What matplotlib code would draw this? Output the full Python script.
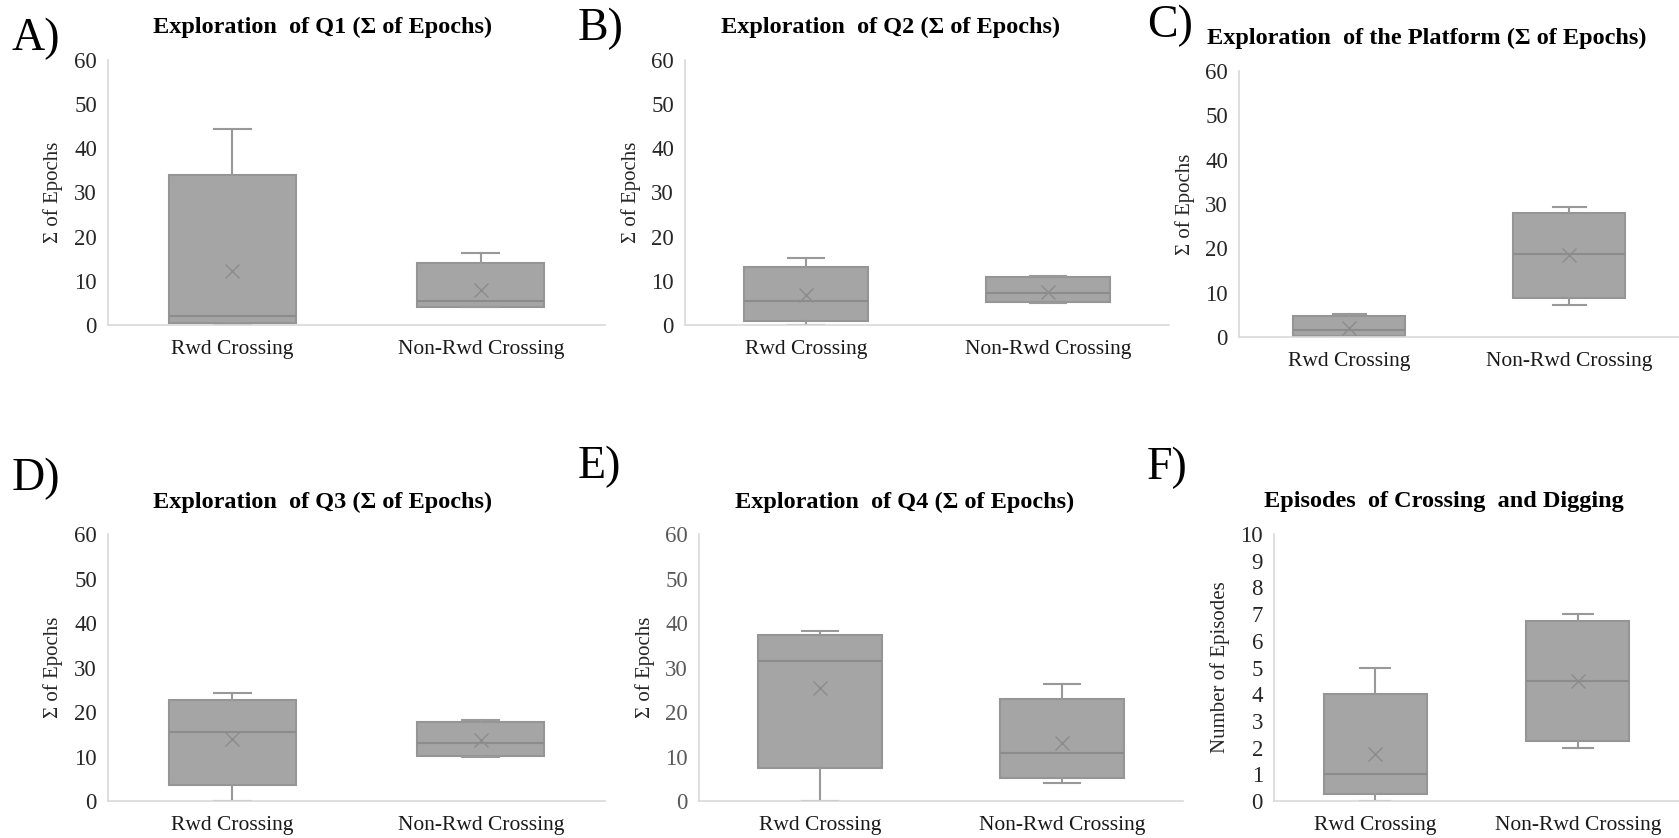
import matplotlib.pyplot as plt

W, H = 1679, 838

categories = ['Rwd Crossing', 'Non-Rwd Crossing']

# each list: whisker low, q1, median, q3, whisker high, mean
a_rwd = [0, 0.4, 2.0, 34.0, 44.3, 12.3]
a_non = [4.0, 4.0, 5.5, 14.0, 16.2, 7.9]
b_rwd = [0, 1.0, 5.5, 13.2, 15.2, 6.7]
b_non = [5.0, 5.1, 7.2, 10.9, 11.1, 7.5]
c_rwd = [0, 0.15, 1.5, 4.7, 5.2, 2.0]
c_non = [7.3, 8.8, 18.7, 27.9, 29.4, 18.4]
d_rwd = [0, 3.5, 15.6, 22.6, 24.2, 14.0]
d_non = [10.0, 10.1, 13.1, 17.8, 18.3, 13.6]
e_rwd = [0, 7.35, 31.5, 37.2, 38.3, 25.4]
e_non = [4.1, 5.1, 10.7, 23.0, 26.2, 13.0]
f_rwd = [0, 0.25, 1.0, 4.0, 5.0, 1.75]
f_non = [2.0, 2.25, 4.5, 6.75, 7.0, 4.5]

titles = ['Exploration  of Q1 (\u03a3 of Epochs)',
          'Exploration  of Q2 (\u03a3 of Epochs)',
          'Exploration  of the Platform (\u03a3 of Epochs)',
          'Exploration  of Q3 (\u03a3 of Epochs)',
          'Exploration  of Q4 (\u03a3 of Epochs)',
          'Episodes  of Crossing  and Digging']
ylabels = ['\u03a3 of Epochs'] * 5 + ['Number of Episodes']
letters = ['A)', 'B)', 'C)', 'D)', 'E)', 'F)']
ymax = [60, 60, 60, 60, 60, 10]
ystep = [10, 10, 10, 10, 10, 1]

# layout in pixels: axes box, title centre, letter pos, ylabel x (right side)
axes_px = [(108, 60, 605, 325), (685, 60, 1169, 325), (1239, 71, 1679, 337),
           (108, 534, 605, 801), (699, 534, 1183, 801), (1274, 534, 1679, 801)]
title_px = [(323, 27), (891, 27), (1427, 38), (323, 502), (905, 502), (1444, 502)]
letter_px = [(12, 39), (578, 29), (1147, 26), (12, 479), (578, 467), (1147, 468)]
ylab_px = [63, 641, 1195, 63, 655, 1230]
ytick_col = ['#262626', '#262626', '#262626', '#262626', '#595959', '#262626']

panels = [(a_rwd, a_non), (b_rwd, b_non), (c_rwd, c_non),
          (d_rwd, d_non), (e_rwd, e_non), (f_rwd, f_non)]

serif = ['Liberation Serif', 'DejaVu Serif']
plt.rcParams['font.family'] = serif

fig = plt.figure(figsize=(W / 100, H / 100), dpi=100)

box_fill = '#a5a5a5'
line_col = '#8c8c8c'

for i, (rwd, non) in enumerate(panels):
    x0, y0, x1, y1 = axes_px[i]
    ax = fig.add_axes([x0 / W, 1 - y1 / H, (x1 - x0) / W, (y1 - y0) / H])

    stats = []
    for name, s in zip(categories, (rwd, non)):
        stats.append(dict(label=name, whislo=s[0], q1=s[1], med=s[2],
                          q3=s[3], whishi=s[4], mean=s[5], fliers=[]))

    ax.bxp(stats, positions=[1, 2], widths=0.51, capwidths=0.15,
           patch_artist=True, showmeans=True, showfliers=False,
           boxprops=dict(facecolor=box_fill, edgecolor='#959595', linewidth=1.5),
           medianprops=dict(color=line_col, linewidth=1.5),
           whiskerprops=dict(color='#999999', linewidth=1.5),
           capprops=dict(color='#999999', linewidth=1.5),
           meanprops=dict(marker='x', markersize=10, markeredgecolor=line_col,
                          markeredgewidth=1.0))

    ax.set_xlim(0.5, 2.5)
    ax.set_ylim(0, ymax[i])
    ax.set_yticks(range(0, ymax[i] + 1, ystep[i]))
    ax.set_xticks([1, 2], categories)
    ax.tick_params(axis='both', length=0)
    ax.tick_params(axis='y', pad=8, labelsize=16.5, colors=ytick_col[i])
    ax.tick_params(axis='x', pad=11, labelsize=15.5, colors='#1a1a1a')
    for side in ['top', 'right']:
        ax.spines[side].set_visible(False)
    for side in ['left', 'bottom']:
        ax.spines[side].set_color('#d9d9d9')
        ax.spines[side].set_linewidth(1.2)
    ax.patch.set_alpha(0)

    ax.set_ylabel(ylabels[i], fontsize=15, color='#262626')
    ax.yaxis.set_label_coords((ylab_px[i] - x0) / (x1 - x0), 0.5)

    tx, ty = title_px[i]
    fig.text(tx / W, 1 - ty / H, titles[i], fontsize=17.5, fontweight='bold',
             ha='center', va='center')
    lx, ly = letter_px[i]
    fig.text(lx / W, 1 - ly / H, letters[i], fontsize=33, ha='left', va='center')

fig.savefig('out.png', dpi=100)
